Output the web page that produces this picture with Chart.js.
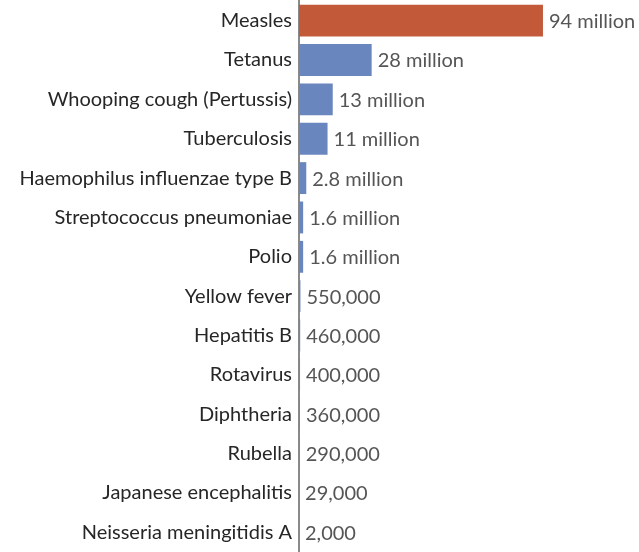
<!DOCTYPE html>
<html>
<head>
<meta charset="utf-8">
<script src="https://cdn.jsdelivr.net/npm/chart.js@4"></script>
<style>
  html, body { margin: 0; padding: 0; background: #fff; overflow: hidden; }
  #wrap { width: 639px; height: 552px; position: relative; }
</style>
</head>
<body>
<div id="wrap"><canvas id="deathsChart"></canvas></div>
<script>
const diseases = [
  'Measles', 'Tetanus', 'Whooping cough (Pertussis)', 'Tuberculosis',
  'Haemophilus influenzae type B', 'Streptococcus pneumoniae', 'Polio',
  'Yellow fever', 'Hepatitis B', 'Rotavirus', 'Diphtheria', 'Rubella',
  'Japanese encephalitis', 'Neisseria meningitidis A'
]
// lives saved, in millions
const livesSaved = [94, 28, 13, 11, 2.8, 1.6, 1.6, 0.55, 0.46, 0.40, 0.36, 0.29, 0.029, 0.002]
const barColors = diseases.map((d, i) => i === 0 ? '#c25a3a' : '#6a86be')

function fmtValue(v) {
  if (v >= 1) return v + ' million'
  return Math.round(v * 1e6).toLocaleString('en-US')
}

const valueLabels = {
  id: 'valueLabels',
  afterDatasetsDraw(chart) {
    const ctx = chart.ctx
    const meta = chart.getDatasetMeta(0)
    ctx.save()
    ctx.font = '20px Lato'
    ctx.fillStyle = '#555'
    ctx.textBaseline = 'middle'
    ctx.textAlign = 'left'
    meta.data.forEach((bar, i) => {
      ctx.fillText(fmtValue(livesSaved[i]), bar.x + 6, bar.y + 1)
    })
    ctx.restore()
  }
}

const ctx = document.getElementById('deathsChart')
new Chart(ctx, {
  type: 'bar',
  data: {
    labels: diseases,
    datasets: [{
      data: livesSaved,
      backgroundColor: barColors,
      barPercentage: 0.81,
      categoryPercentage: 1
    }]
  },
  options: {
    indexAxis: 'y',
    responsive: true,
    maintainAspectRatio: false,
    animation: false,
    layout: { padding: { top: 1, right: 0, bottom: -3, left: 0 } },
    plugins: { legend: { display: false }, tooltip: { enabled: false } },
    scales: {
      x: {
        display: false,
        min: 0,
        max: 131
      },
      y: {
        grid: { display: false, drawTicks: false },
        border: { display: true, color: '#8a8a8a', width: 2 },
        ticks: {
          color: '#262626',
          padding: 7,
          font: { family: 'Lato', size: 20 }
        },
        afterFit: function(scale) {
          scale.width = 299
          scale.paddingTop = 0
          scale.paddingBottom = 0
        }
      }
    }
  },
  plugins: [valueLabels]
})
</script>
</body>
</html>
